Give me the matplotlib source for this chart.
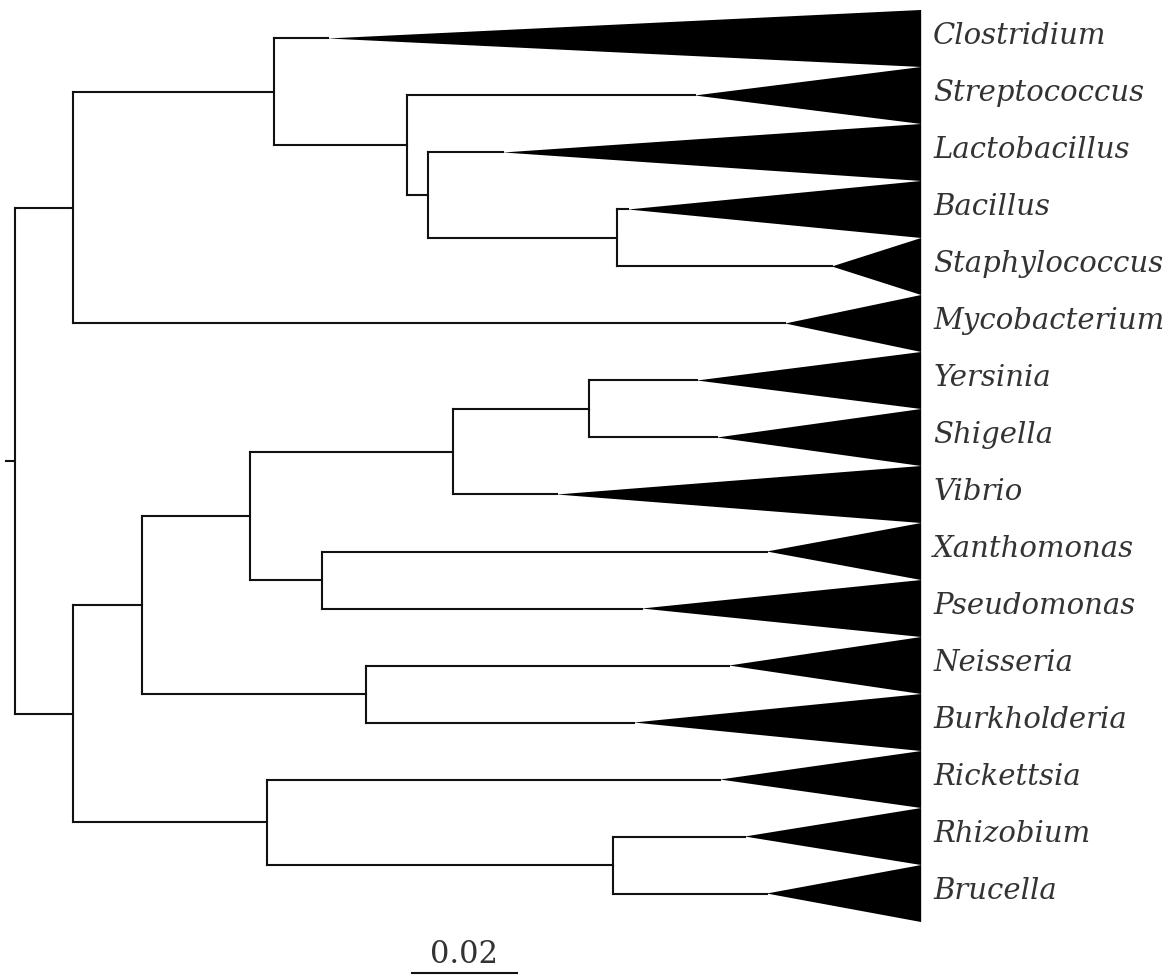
import matplotlib
matplotlib.use('Agg')
import matplotlib.pyplot as plt

# collapsed genera, top to bottom
taxa = ['Clostridium', 'Streptococcus', 'Lactobacillus', 'Bacillus',
        'Staphylococcus', 'Mycobacterium', 'Yersinia', 'Shigella', 'Vibrio',
        'Xanthomonas', 'Pseudomonas', 'Neisseria', 'Burkholderia',
        'Rickettsia', 'Rhizobium', 'Brucella']

# distance from root to the crown of each collapsed clade (subst./site)
crown_depth = [0.0596, 0.1295, 0.0930, 0.1168, 0.1556, 0.1467, 0.1299,
               0.1337, 0.1032, 0.1432, 0.1194, 0.1360, 0.1179, 0.1343,
               0.1390, 0.1432]

# all clade triangles reach out to the same tip depth
tip_depth = 0.1726

# internal nodes: name -> (depth, children)
nodes = {
    'root': (0.0, ['A', 'F']),
    'A': (0.0110, ['B', 'Mycobacterium']),
    'B': (0.0493, ['Clostridium', 'C']),
    'C': (0.0747, ['Streptococcus', 'D']),
    'D': (0.0787, ['Lactobacillus', 'E']),
    'E': (0.1147, ['Bacillus', 'Staphylococcus']),
    'F': (0.0110, ['G', 'M']),
    'G': (0.0242, ['H', 'L']),
    'H': (0.0448, ['I', 'K']),
    'I': (0.0834, ['J', 'Vibrio']),
    'J': (0.1093, ['Yersinia', 'Shigella']),
    'K': (0.0585, ['Xanthomonas', 'Pseudomonas']),
    'L': (0.0669, ['Neisseria', 'Burkholderia']),
    'M': (0.0480, ['Rickettsia', 'N']),
    'N': (0.1139, ['Rhizobium', 'Brucella']),
}

scale_len = 0.02
scale_label = '0.02'

LW = 1.5
INK = '#111111'
TEXT = '#333333'

fig = plt.figure(figsize=(11.7, 9.76), dpi=100)
ax = fig.add_axes([0, 0, 1, 1])

depth = {t: d for t, d in zip(taxa, crown_depth)}
row = {t: i for i, t in enumerate(taxa)}
for name, (d, _) in nodes.items():
    depth[name] = d


def node_y(name):
    if name in row:
        return row[name]
    kids = nodes[name][1]
    return (node_y(kids[0]) + node_y(kids[-1])) / 2


def draw(name, parent_depth):
    y = node_y(name)
    ax.plot([parent_depth, depth[name]], [y, y], color=INK, lw=LW,
            solid_capstyle='projecting')
    if name in nodes:
        kids = nodes[name][1]
        ax.plot([depth[name]] * 2, [node_y(kids[0]), node_y(kids[-1])],
                color=INK, lw=LW, solid_capstyle='projecting')
        for k in kids:
            draw(k, depth[name])
    else:
        # collapsed clade drawn as a wedge from crown to tips
        ax.fill([depth[name], tip_depth, tip_depth],
                [y, y - 0.5, y + 0.5], color='black', lw=0)
        ax.text(tip_depth + 0.0023, y - 0.05, name, fontsize=21,
                style='italic', family='DejaVu Serif', color=TEXT,
                ha='left', va='center')


# short stub on the left marks the root
draw('root', -0.0017)

# scale bar
sb_x = 0.0756
sb_y = 16.39
ax.plot([sb_x, sb_x + scale_len], [sb_y, sb_y], color=INK, lw=LW)
ax.text(sb_x + scale_len / 2, 16.22, scale_label, fontsize=22,
        family='DejaVu Serif', color=TEXT, ha='center', va='baseline')

ax.set_xlim(-15 / 5250, 1155 / 5250)
ax.set_ylim(16.447, -0.675)
ax.axis('off')

fig.savefig('out.png', dpi=100, facecolor='white')
